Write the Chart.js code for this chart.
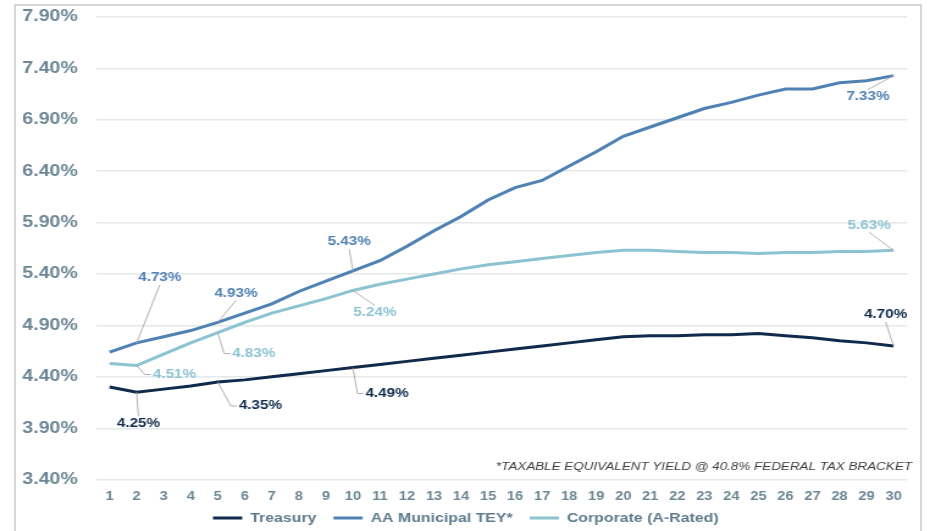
<!DOCTYPE html>
<html>
<head>
<meta charset="utf-8">
<script src="https://cdn.jsdelivr.net/npm/chart.js@4.4.1/dist/chart.umd.min.js"></script>
<style>
html, body { margin: 0; padding: 0; background: #fff; overflow: hidden; }
#frame { position: absolute; left: 14px; top: 4px; width: 908px; height: 560px; border: 2px solid #d6d6d6; box-sizing: border-box; }
/* chart is drawn narrow and widened, which gives the wide lettering */
#wrap { position: absolute; left: 0; top: 0; width: 762px; height: 531px; transform: scaleX(1.2205); transform-origin: 0 0; }
</style>
</head>
<body>
<div id="frame"></div>
<div id="wrap"><canvas id="yields"></canvas></div>
<script>
const maturities = ['1','2','3','4','5','6','7','8','9','10','11','12','13','14','15',
                    '16','17','18','19','20','21','22','23','24','25','26','27','28','29','30'];

const treasury = [4.30, 4.25, 4.28, 4.31, 4.35, 4.37, 4.40, 4.43, 4.46, 4.49,
                  4.52, 4.55, 4.58, 4.61, 4.64, 4.67, 4.70, 4.73, 4.76, 4.79,
                  4.80, 4.80, 4.81, 4.81, 4.82, 4.80, 4.78, 4.75, 4.73, 4.70];

const municipalTey = [4.64, 4.73, 4.79, 4.85, 4.93, 5.02, 5.11, 5.23, 5.33, 5.43,
                      5.53, 5.67, 5.82, 5.96, 6.12, 6.24, 6.31, 6.45, 6.59, 6.74,
                      6.83, 6.92, 7.01, 7.07, 7.14, 7.20, 7.20, 7.26, 7.28, 7.33];

const corporate = [4.53, 4.51, 4.62, 4.73, 4.83, 4.93, 5.02, 5.09, 5.16, 5.24,
                   5.30, 5.35, 5.40, 5.45, 5.49, 5.52, 5.55, 5.58, 5.61, 5.63,
                   5.63, 5.62, 5.61, 5.61, 5.60, 5.61, 5.61, 5.62, 5.62, 5.63];

const yTicks = [3.40, 3.90, 4.40, 4.90, 5.40, 5.90, 6.40, 6.90, 7.40, 7.90];

const footnote = '*TAXABLE EQUIVALENT YIELD @ 40.8% FEDERAL TAX BRACKET';

const FONT = 'Arial, "Liberation Sans", sans-serif';
const TICK_COLOR = '#6a8593';

// value labels with leader lines; dx/dy move the label away from its point
const valueLabels = {
    id: 'valueLabels',
    afterDatasetsDraw(chart, args, opts) {
        const ctx = chart.ctx;
        ctx.save();
        ctx.font = 'bold 12.5px ' + FONT;
        ctx.textAlign = 'center';
        ctx.textBaseline = 'middle';
        chart.data.datasets.forEach((ds, di) => {
            const meta = chart.getDatasetMeta(di);
            (ds.valueLabels || []).forEach(spec => {
                const pt = meta.data[spec.index];
                const text = ds.data[spec.index].toFixed(2) + '%';
                const cx = pt.x + spec.dx, cy = pt.y + spec.dy;
                const w = ctx.measureText(text).width, h = 10;

                ctx.strokeStyle = '#a9a9a9';
                ctx.lineWidth = 0.9;
                ctx.beginPath();
                ctx.moveTo(pt.x, pt.y);
                if (Math.abs(spec.dx) > w / 2 + 4) {
                    const side = Math.sign(spec.dx);
                    const edge = cx - side * (w / 2 + 1.5);
                    ctx.lineTo(edge - side * 5, cy);
                    ctx.lineTo(edge, cy);
                } else {
                    const side = Math.sign(spec.dy);
                    ctx.lineTo(cx, cy - side * (h / 2 + 2));
                }
                ctx.stroke();

                ctx.fillStyle = ds.borderColor;
                ctx.fillText(text, cx, cy);
            });
        });
        ctx.restore();
    }
};

const footnotePlugin = {
    id: 'footnote',
    afterDraw(chart) {
        const ctx = chart.ctx;
        ctx.save();
        ctx.font = 'italic 11px ' + FONT;
        ctx.fillStyle = '#3c3c3c';
        ctx.textAlign = 'right';
        ctx.textBaseline = 'middle';
        ctx.fillText(footnote, chart.chartArea.right + 4, 467);
        ctx.restore();
    }
};

// move the legend row a little right and up from where the layout puts it
const legendShift = {
    id: 'legendShift',
    afterLayout(chart) {
        const lg = chart.legend;
        lg.left += 10;
        lg.right += 10;
        lg.top -= 5;
        lg.bottom -= 5;
    }
};

const chart = new Chart(
    document.getElementById('yields'),
    {
        type: 'line',
        data: {
            labels: maturities,
            datasets: [
                {
                    label: 'Treasury',
                    data: treasury,
                    borderColor: '#0f2a4a',
                    backgroundColor: '#0f2a4a',
                    valueLabels: [
                        {index: 1, dx: 1.5, dy: 31},
                        {index: 4, dx: 35, dy: 24},
                        {index: 9, dx: 28, dy: 26},
                        {index: 29, dx: -6.5, dy: -31}
                    ]
                },
                {
                    label: 'AA Municipal TEY*',
                    data: municipalTey,
                    borderColor: '#4f81b3',
                    backgroundColor: '#4f81b3',
                    valueLabels: [
                        {index: 1, dx: 19, dy: -65},
                        {index: 4, dx: 15, dy: -29},
                        {index: 9, dx: -3, dy: -29},
                        {index: 29, dx: -21, dy: 21}
                    ]
                },
                {
                    label: 'Corporate (A-Rated)',
                    data: corporate,
                    borderColor: '#8cc3d1',
                    backgroundColor: '#8cc3d1',
                    valueLabels: [
                        {index: 1, dx: 31, dy: 9},
                        {index: 4, dx: 29.5, dy: 21},
                        {index: 9, dx: 18, dy: 22},
                        {index: 29, dx: -20, dy: -25}
                    ]
                }
            ]
        },
        options: {
            responsive: true,
            maintainAspectRatio: false,
            animation: false,
            layout: {
                padding: {top: 17, right: 18.8, bottom: -8.6, left: 0}
            },
            elements: {
                line: {borderWidth: 3, tension: 0},
                point: {radius: 0, hoverRadius: 0}
            },
            scales: {
                x: {
                    offset: true,
                    grid: {display: false, drawTicks: false},
                    border: {display: false},
                    ticks: {
                        color: TICK_COLOR,
                        padding: 10,
                        maxRotation: 0,
                        autoSkip: false,
                        font: {family: FONT, size: 12, weight: 'bold'}
                    },
                    afterFit(scale) { scale.height = 23; }
                },
                y: {
                    min: yTicks[0],
                    max: yTicks[yTicks.length - 1],
                    afterBuildTicks(scale) { scale.ticks = yTicks.map(v => ({value: v})); },
                    grid: {color: '#e3e8ea', lineWidth: 1.4, drawTicks: false},
                    border: {display: false},
                    ticks: {
                        color: TICK_COLOR,
                        padding: 15,
                        font: {family: FONT, size: 16, weight: 'bold'},
                        callback: v => v.toFixed(2) + '%'
                    },
                    afterFit(scale) {
                        scale.width = 78.7;
                        scale.paddingTop = 0;
                        scale.paddingBottom = 0;
                    }
                }
            },
            plugins: {
                tooltip: {enabled: false},
                legend: {
                    position: 'bottom',
                    labels: {
                        boxWidth: 24,
                        boxHeight: 3,
                        padding: 14,
                        color: '#5d7b8b',
                        font: {family: FONT, size: 13, weight: 'bold'},
                        generateLabels(chart) {
                            return Chart.defaults.plugins.legend.labels.generateLabels(chart)
                                .map(item => ({...item, lineWidth: 0}));
                        }
                    }
                }
            }
        },
        plugins: [valueLabels, footnotePlugin, legendShift]
    }
);
</script>
</body>
</html>
